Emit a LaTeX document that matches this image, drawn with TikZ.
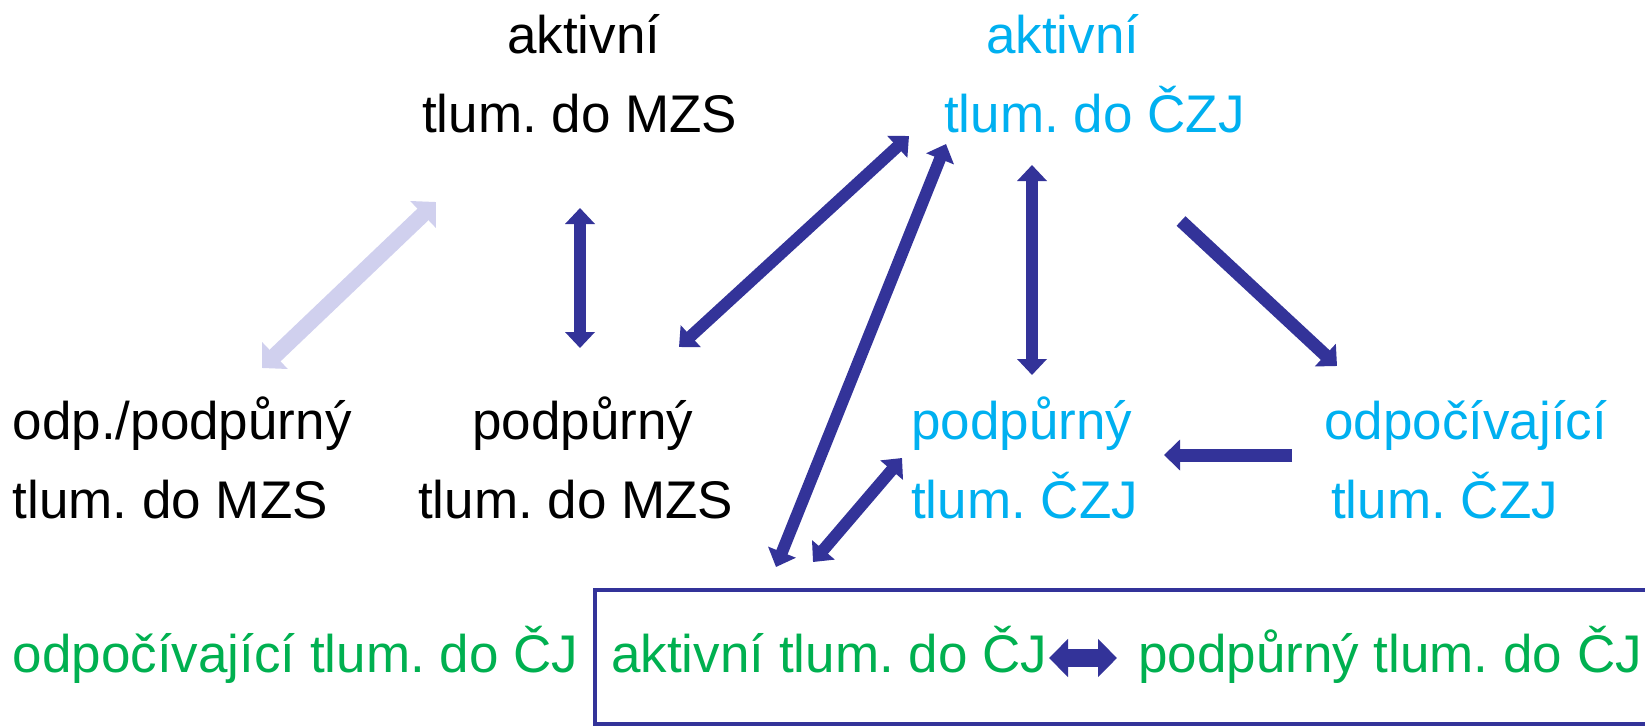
\documentclass[tikz,border=0pt]{standalone}
\usepackage{fontspec}
\setmainfont{Liberation Sans}
\usetikzlibrary{arrows.meta}
\definecolor{arrowblue}{RGB}{51,51,153}
\definecolor{liteblue}{RGB}{208,208,238}
\definecolor{txtblue}{RGB}{0,176,240}
\definecolor{txtgreen}{RGB}{0,176,80}
\frenchspacing
\begin{document}
\begin{tikzpicture}[x=1pt,y=-1pt,
  lbl/.style={anchor=base west, inner sep=0pt, font=\fontsize{53}{60}\selectfont\frenchspacing},
  dbl/.style={draw=arrowblue, line width=12pt, >={Triangle[width=29pt,length=16pt]}, <->},
  sgl/.style={draw=arrowblue, line width=13pt, >={Triangle[width=30pt,length=16pt]}, ->},
  lite/.style={draw=liteblue, line width=16pt, >={Triangle[width=36pt,length=18pt]}, <->},
  fat/.style={draw=arrowblue, line width=18pt, >={Triangle[width=37pt,length=19pt]}, <->},
  frame/.style={draw=arrowblue, line width=4pt}]
\useasboundingbox (0,0) rectangle (1645,726);
% texts
\node[lbl] (aMZSa) at (507,53) {aktivní};
\node[lbl] (aMZSb) at (422,132) {tlum. do MZS};
\node[lbl,text=txtblue] (aCZJa) at (986,53) {aktivní};
\node[lbl,text=txtblue] (aCZJb) at (944,132) {tlum. do ČZJ};
\node[lbl] (oMZSa) at (12.5,439) {odp./podpůrný};
\node[lbl] (oMZSb) at (12.5,518) {tlum. do MZS};
\node[lbl] (pMZSa) at (472,439) {podpůrný};
\node[lbl] (pMZSb) at (418,518) {tlum. do MZS};
\node[lbl,text=txtblue] (pCZJa) at (911,439) {podpůrný};
\node[lbl,text=txtblue] (pCZJb) at (911,518) {tlum. ČZJ};
\node[lbl,text=txtblue] (oCZJa) at (1324,439) {odpočívající};
\node[lbl,text=txtblue] (oCZJb) at (1331,518) {tlum. ČZJ};
\node[lbl,text=txtgreen] (oCJ) at (12.5,672) {odpočívající tlum. do ČJ};
\node[lbl,text=txtgreen] (aCJ) at (611,672) {aktivní tlum. do ČJ};
\node[lbl,text=txtgreen] (pCJ) at (1138,672) {podpůrný tlum. do ČJ};
% frame
\coordinate (fA) at (595,590);
\coordinate (fB) at (1670,724);
\draw[frame] (fA) rectangle (fB);
% arrow end points
\coordinate (l1) at (262,368);  \coordinate (l2) at (436,202);
\coordinate (v1a) at (580,208); \coordinate (v1b) at (580,348);
\coordinate (d1a) at (909,136); \coordinate (d1b) at (679,347);
\coordinate (d2a) at (946,144); \coordinate (d2b) at (776,567);
\coordinate (d3a) at (902,458); \coordinate (d3b) at (813,562);
\coordinate (v2a) at (1032,165); \coordinate (v2b) at (1032,375);
\coordinate (s1a) at (1181,221); \coordinate (s1b) at (1337,366);
\coordinate (s2a) at (1292,455); \coordinate (s2b) at (1164,455);
\coordinate (h1) at (1049,658); \coordinate (h2) at (1117,658);
% arrows
\draw[lite] (l1) -- (l2);
\draw[dbl] (v1a) -- (v1b);
\draw[dbl] (d1a) -- (d1b);
\draw[dbl] (d2a) -- (d2b);
\draw[dbl] (d3a) -- (d3b);
\draw[dbl] (v2a) -- (v2b);
\draw[sgl] (s1a) -- (s1b);
\draw[sgl] (s2a) -- (s2b);
\draw[fat] (h1) -- (h2);
\end{tikzpicture}
\end{document}
